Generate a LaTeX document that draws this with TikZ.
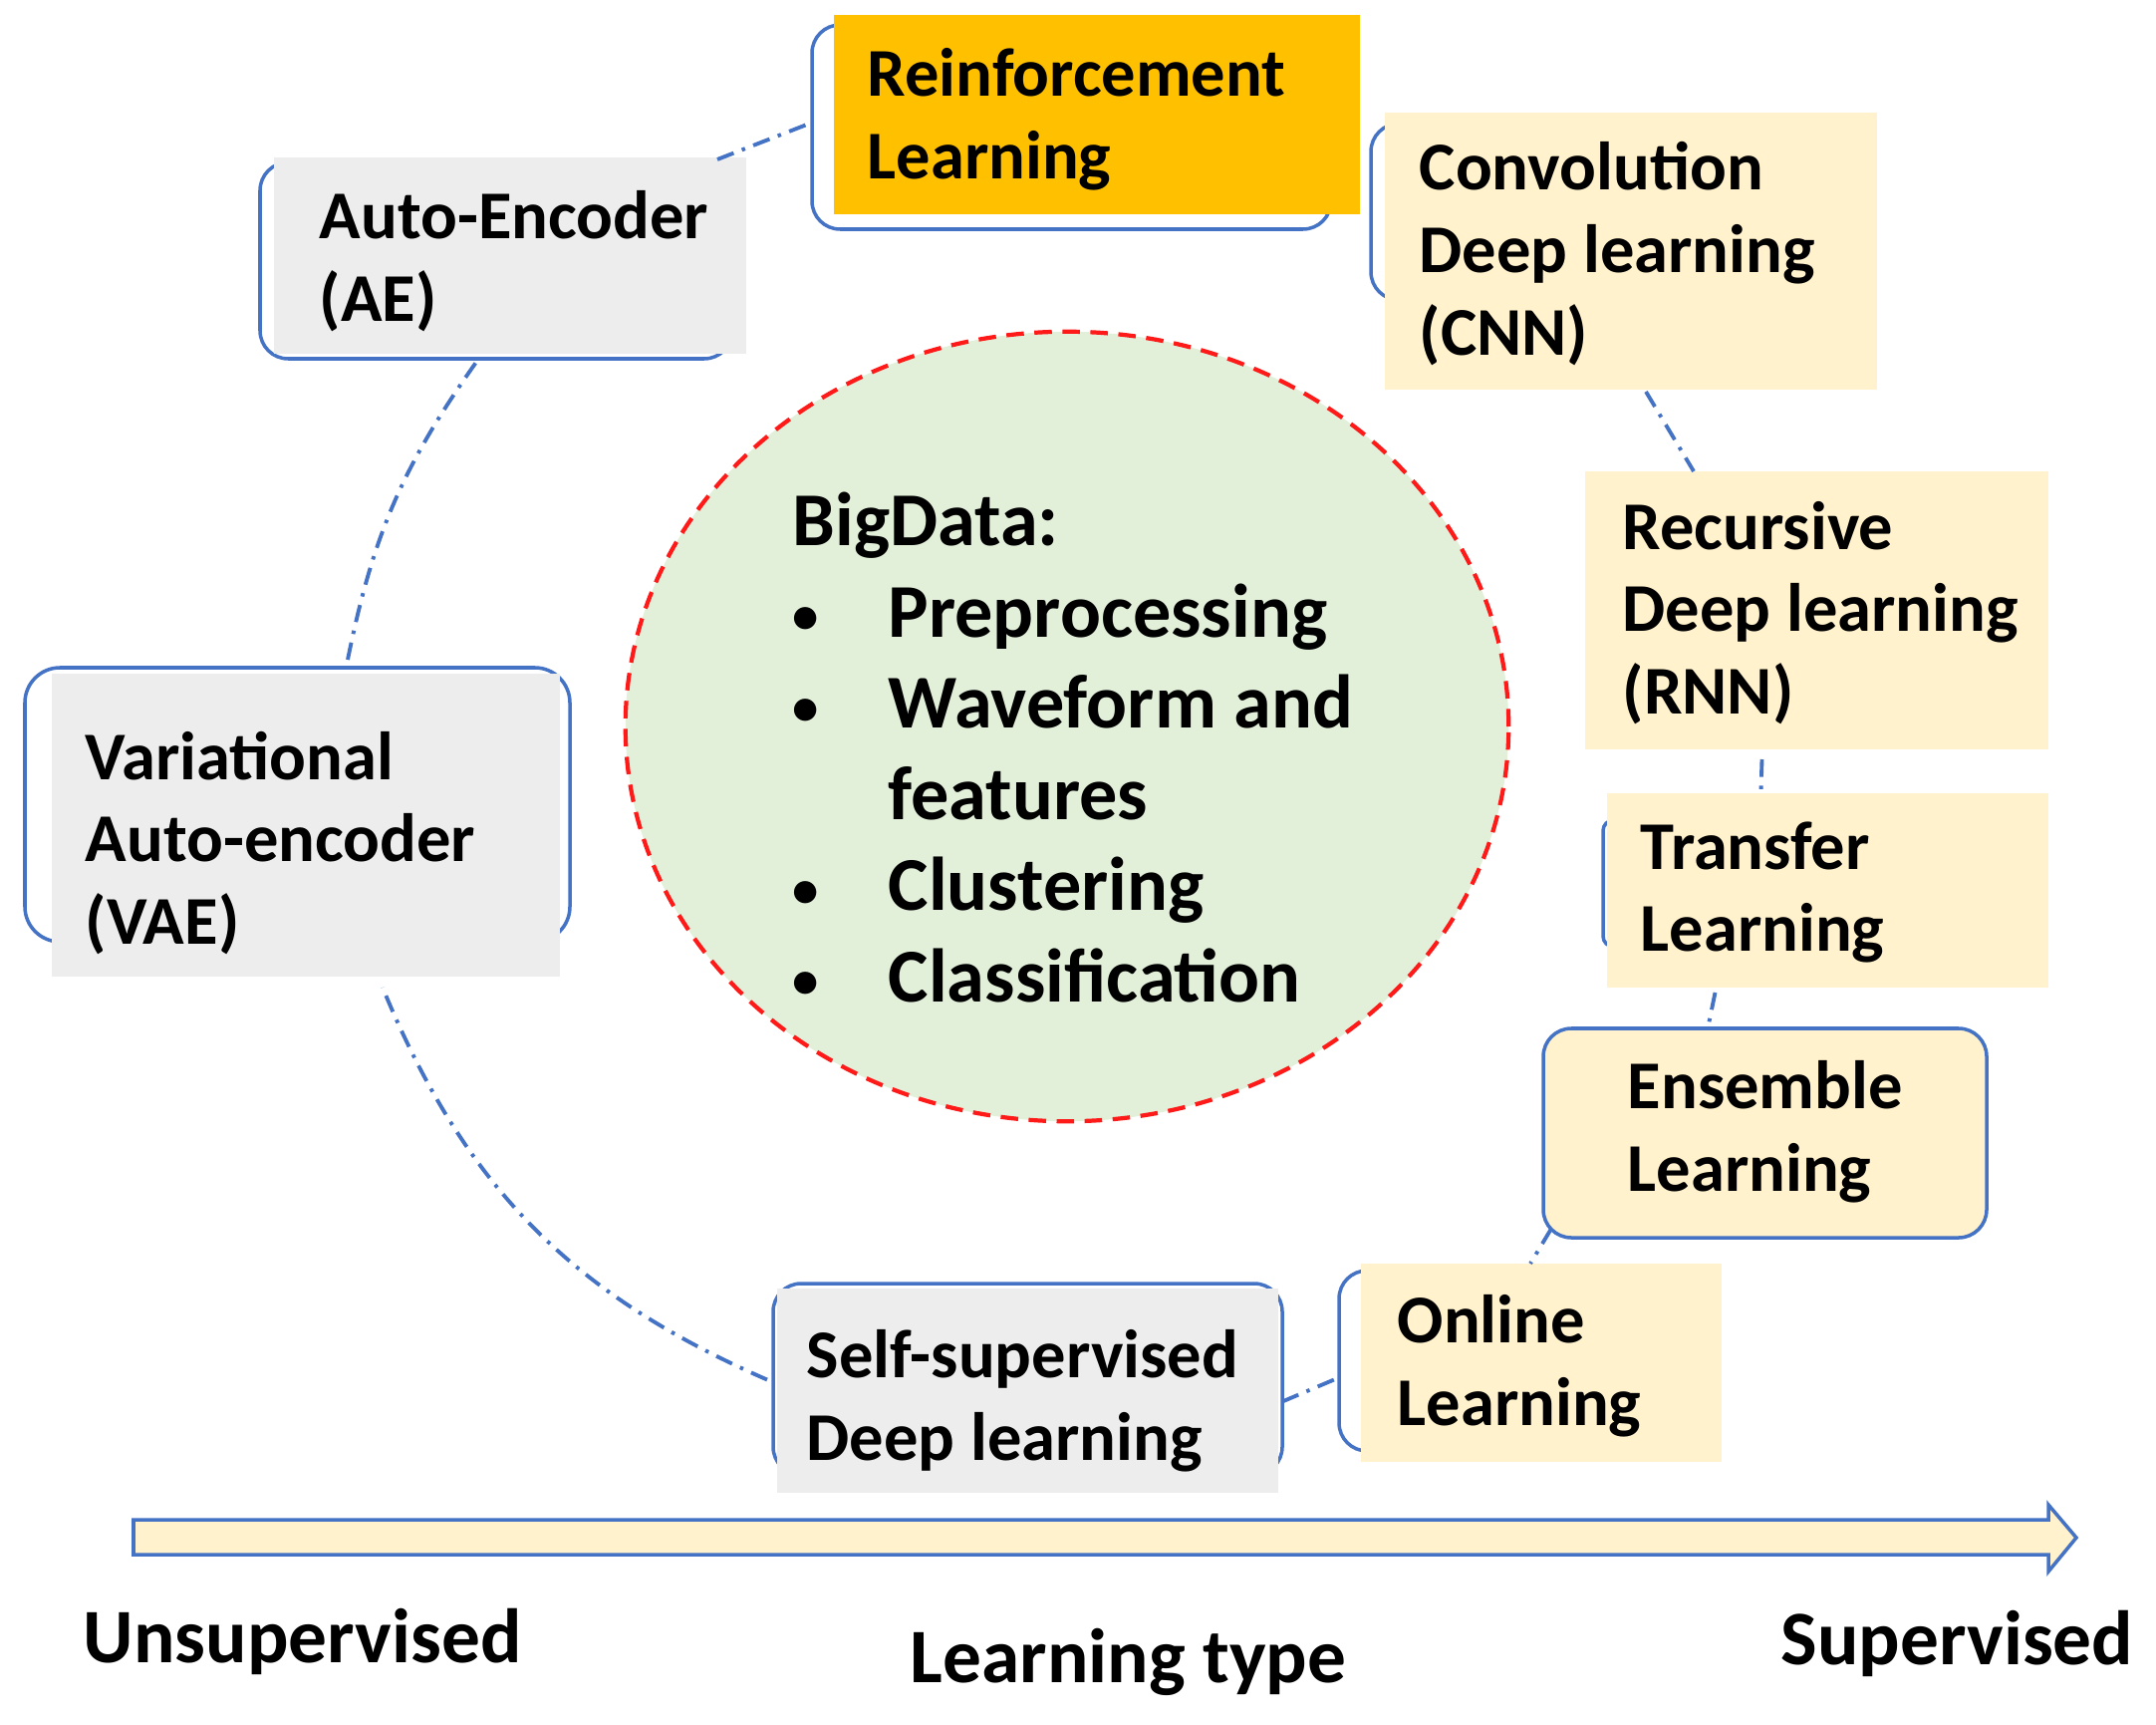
\documentclass[tikz,border=0pt]{standalone}
\usepackage{fontspec}
\setmainfont{Carlito}
\usetikzlibrary{shapes.geometric,fit,calc}
\definecolor{obl}{HTML}{4472C4}
\definecolor{grayf}{HTML}{EDEDED}
\definecolor{creamf}{HTML}{FFF2CC}
\definecolor{orangef}{HTML}{FFC000}
\definecolor{greenf}{HTML}{E2F0D9}
\definecolor{redd}{HTML}{FF1A1A}
\newcommand{\bdbul}{\makebox[27.3pt][l]{\hspace{0pt}\raisebox{1pt}{\fontsize{15}{15}\selectfont\textbullet}}}
\begin{document}
\begin{tikzpicture}[x=0.01cm,y=-0.01cm,
  bord/.style={draw=obl,line width=1pt,rounded corners=8pt},
  boxfill/.style={inner sep=0pt,outer sep=0pt,draw=none},
  boxtext/.style={inner sep=0pt,anchor=base west,font=\fontsize{19.5}{23.6}\selectfont\bfseries},
  labtext/.style={inner sep=0pt,anchor=base west,font=\fontsize{22}{27}\selectfont\bfseries},
  conn/.style={draw=obl,line width=1.1pt,dash pattern=on 5pt off 2.5pt on 1pt off 2.5pt}]
\useasboundingbox (0,0) rectangle (2164,1731);

% ---- border outlines (partly hidden by the fills) ----
\draw[bord] (815,25) rectangle (1336,230);
\draw[bord] (261,163) rectangle (735,360);
\draw[bord] (1376,124) rectangle (1800,301);
\draw[bord,rounded corners=3pt] (1609,823) rectangle (1900,950);
\draw[bord] (1344,1275) rectangle (1700,1456);
\draw[bord] (776,1288) rectangle (1287,1480);
\draw[bord,rounded corners=10pt] (25,670) rectangle (572,945);

% ---- fills ----
\node[boxfill,fill=orangef,fit={(837,15) (1365,215)}] (rl) {};
\node[boxfill,fill=grayf,fit={(275,158) (749,355)}] (ae) {};
\node[boxfill,fill=creamf,fit={(1390,113) (1884,391)}] (cnn) {};
\node[boxfill,fill=creamf,fit={(1591,473) (2056,752)}] (rnn) {};
\node[boxfill,fill=creamf,fit={(1613,796) (2056,991)}] (tl) {};
\node[boxfill,fill=creamf,draw=obl,line width=1pt,rounded corners=8pt,fit={(1549,1032) (1994,1242)}] (el) {};
\node[boxfill,fill=creamf,fit={(1366,1268) (1728,1467)}] (ol) {};
\node[boxfill,fill=grayf,fit={(780,1293) (1283,1498)}] (ss) {};
\node[boxfill,fill=grayf,fit={(52,676) (562,980)}] (vae) {};

% ---- central ellipse ----
\node[ellipse,draw=redd,line width=1.2pt,dash pattern=on 5pt off 3pt,fill=greenf,
      minimum width=8.86cm,minimum height=7.92cm,inner sep=0pt] (bd) at (1071,729) {};

% ---- texts ----
\node[boxtext] (rlt) at (870,97) {\begin{tabular}[t]{@{}l@{}}Reinforcement\\Learning\end{tabular}};
\node[boxtext] (aet) at (320,240) {\begin{tabular}[t]{@{}l@{}}Auto-Encoder\\(AE)\end{tabular}};
\node[boxtext] (cnnt) at (1424,191) {\begin{tabular}[t]{@{}l@{}}Convolution\\Deep learning\\(CNN)\end{tabular}};
\node[boxtext] (rnnt) at (1628,551) {\begin{tabular}[t]{@{}l@{}}Recursive\\Deep learning\\(RNN)\end{tabular}};
\node[boxtext] (tlt) at (1646,872) {\begin{tabular}[t]{@{}l@{}}Transfer\\Learning\end{tabular}};
\node[boxtext] (elt) at (1633,1112) {\begin{tabular}[t]{@{}l@{}}Ensemble\\Learning\end{tabular}};
\node[boxtext] (olt) at (1402,1347) {\begin{tabular}[t]{@{}l@{}}Online\\Learning\end{tabular}};
\node[boxtext] (sst) at (809,1382) {\begin{tabular}[t]{@{}l@{}}Self-supervised\\Deep learning\end{tabular}};
\node[boxtext] (vaet) at (85,782) {\begin{tabular}[t]{@{}l@{}}Variational\\Auto-encoder\\(VAE)\end{tabular}};

\node[inner sep=0pt,anchor=base west,font=\fontsize{21.7}{26}\selectfont\bfseries] (bdt) at (795,548)
 {\begin{tabular}[t]{@{}l@{}}BigData:\\
  \bdbul Preprocessing\\
  \bdbul Waveform and\\
  \hspace*{27.3pt}features\\
  \bdbul Clustering\\
  \bdbul Classification\end{tabular}};

% ---- axis arrow ----
\draw[draw=obl,line width=1pt,fill=creamf,line join=miter]
  (134,1525) -- (2056,1525) -- (2056,1510) -- (2084,1543) -- (2056,1577) -- (2056,1560) -- (134,1560) -- cycle;
\node[labtext] (uns) at (83,1668) {Unsupervised};
\node[labtext] (lt) at (913,1688) {Learning type};
\node[labtext] (sup) at (1787,1670) {Supervised};

% ---- dash-dot connectors ----
\draw[conn] ($(ae.north east)+(-29,2)$) -- ($(rl.west)+(-22,8)$);
\draw[conn] ($(cnn.south)+(15,2)$) -- ($(rnn.north west)+(109,0)$);
\draw[conn] ($(rnn.south)+(-55,10)$) -- ($(tl.north)+(-67,-3)$);
\draw[conn] ($(tl.south)+(-113,5)$) -- ($(el.north)+(-57,-2)$);
\draw[conn] ($(el.south west)+(8,-9)$) -- ($(ol.north west)+(170,0)$);
\draw[conn] ($(ss.east)+(4,11)$) -- ($(ol.west)+(-20,14)$);
\draw[conn] ($(ss.west)+(-10,-11)$) to[bend left=22] ($(vae.south)+(77,11)$);
\draw[conn] ($(vae.north)+(42,-14)$) to[bend left=12] ($(ae.south west)+(204,7)$);
\end{tikzpicture}
\end{document}
